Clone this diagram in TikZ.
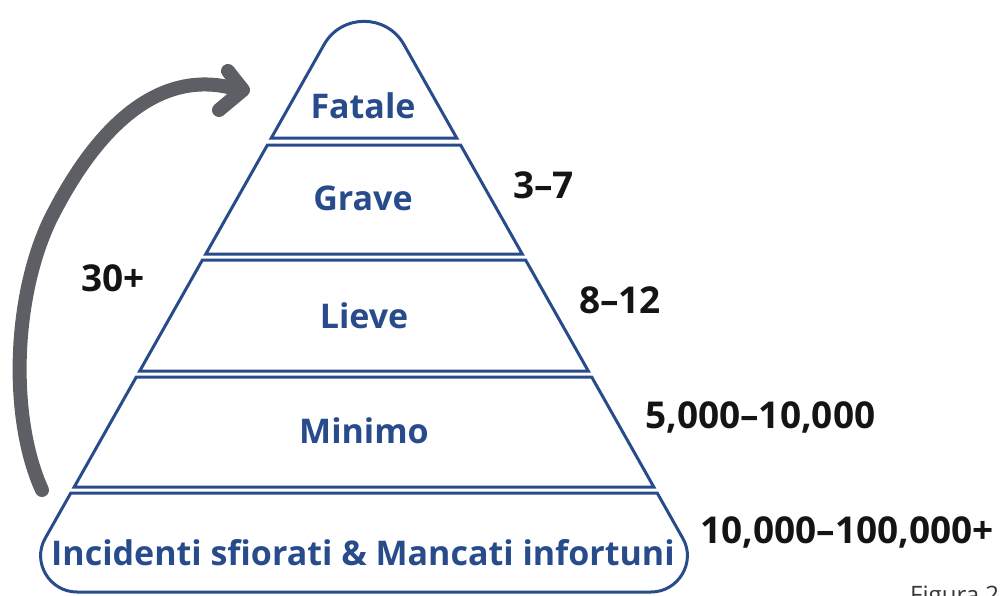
\documentclass[tikz,border=0pt]{standalone}
\usepackage{fontspec}
\setmainfont{Open Sans}
\definecolor{pyrblue}{HTML}{284B8C}
\definecolor{arrowgray}{HTML}{5D5F64}
\definecolor{numblack}{HTML}{151315}
\begin{document}
\begin{tikzpicture}[x=1pt,y=-1pt,
  band/.style={draw=pyrblue, line width=3pt, line join=miter},
  lbl/.style={anchor=base, inner sep=0pt, text=pyrblue,
    font=\fontsize{34}{34}\selectfont\bfseries},
  num/.style={anchor=base west, inner sep=0pt, text=numblack,
    font=\fontsize{37}{37}\selectfont\bfseries},
  bigarrow/.style={draw=arrowgray, line width=14pt, line cap=round, line join=round}]
\useasboundingbox (0,0) rectangle (1001,595);
\clip (0,0) rectangle (1001,595);
% band 1 (Fatale) with rounded apex
\draw[band] (271.3,138) -- (324.1,44.5)
  .. controls (341.6,13.6) and (386.4,13.6) .. (403.9,44.5)
  -- (456.7,138) -- cycle;
% band 2
\draw[band] (267.4,145) -- (460.6,145) -- (522.2,254) -- (205.8,254) -- cycle;
% band 3
\draw[band] (202.4,260) -- (525.6,260) -- (588.3,371) -- (139.7,371) -- cycle;
% band 4
\draw[band] (136.3,377) -- (591.7,377) -- (653.8,487) -- (74.2,487) -- cycle;
% band 5 with rounded bottom corners
\draw[band] (70.8,493) -- (657.2,493) -- (682.8,538.3)
  .. controls (696.3,562) and (678.6,592) .. (651,592)
  -- (77,592) .. controls (49.4,592) and (31.7,562) .. (45.2,538.3) -- cycle;
% labels
\node[lbl] (fatale) at (363,118) {Fatale};
\node[lbl] (grave) at (363,210) {Grave};
\node[lbl] (lieve) at (364,328) {Lieve};
\node[lbl] (minimo) at (364,443) {Minimo};
\node[lbl] (incid) at (363,565) {Incidenti sfiorati \& Mancati infortuni};
% numbers
\node[num] (n1) at (513,198) {3–7};
\node[num] (n2) at (579,313) {8–12};
\node[num] (n3) at (645,428) {5,000–10,000};
\node[num] (n4) at (700,543) {10,000–100,000+};
\node[num] (n5) at (81,291) {30+};
% figure caption (cut by the frame)
\node[anchor=base west, inner sep=0pt, text=numblack!85,
  font=\fontsize{24}{24}\selectfont] (fig) at (910,603) {Figura 2};
% curved arrow
\coordinate (arrowStart) at (42,490);
\coordinate (arrowMid) at (50,220);
\coordinate (arrowEnd) at (236,89);
\draw[bigarrow] (arrowStart) .. controls (10,420) and (12,300) .. (arrowMid)
  .. controls (105,110) and (170,70) .. (arrowEnd);
\draw[bigarrow] ([shift={(-8,-18)}]arrowEnd) -- ([shift={(7,1)}]arrowEnd)
  -- ([shift={(-17,21)}]arrowEnd);
\end{tikzpicture}
\end{document}
